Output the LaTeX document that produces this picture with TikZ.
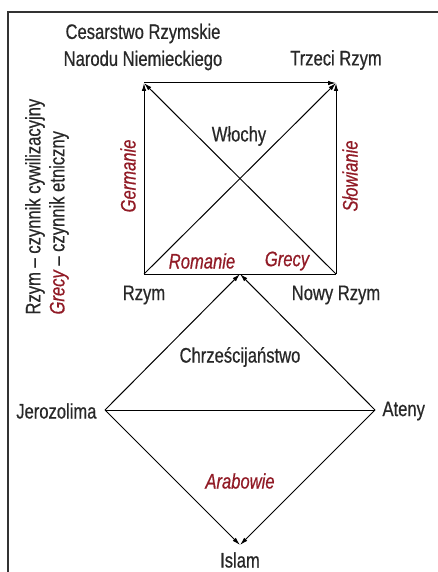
\documentclass[tikz,border=0pt]{standalone}
\usepackage{fontspec}
\setmainfont[FakeStretch=0.79,FakeBold=0.6]{Liberation Sans}
\usetikzlibrary{arrows.meta}
\definecolor{tekst}{RGB}{40,40,40}
\definecolor{czerw}{RGB}{145,27,38}
\def\rozm{\fontsize{21}{27}\selectfont}
\tikzset{
  lbl/.style={text=tekst,font=\rozm,inner sep=0pt},
  lud/.style={text=czerw,font=\rozm\itshape,inner sep=0pt}
}

\begin{document}
\begin{tikzpicture}[x=1pt,y=-1pt,>={Latex[length=8pt,width=4.5pt]},line width=1pt]
\useasboundingbox (0,0) rectangle (437,572);
\draw[line width=1.3pt,black!80] (8,600) |- (460,12);
\coordinate (cesarstwo) at (144,83);
\coordinate (trzeci) at (336,83);
\coordinate (rzym) at (144,274);
\coordinate (nowy) at (336,274);
\coordinate (chrz) at (240,274);
\coordinate (jer) at (105,410);
\coordinate (ateny) at (375,410);
\coordinate (islam) at (240,545);
\draw (rzym) -- (nowy);
\draw[->] (rzym) -- (cesarstwo);
\draw[->] (cesarstwo) -- (trzeci);
\draw[->] (nowy) -- (trzeci);
\draw[->] (rzym) -- (trzeci);
\draw[->] (nowy) -- (cesarstwo);
\draw[->] (jer) -- (chrz);
\draw[->] (ateny) -- (chrz);
\draw (jer) -- (ateny);
\draw[->] (jer) -- (islam);
\draw[->] (ateny) -- (islam);
\node[lbl,align=center] (cesarstwoL) at (143,47) {Cesarstwo Rzymskie\\Narodu Niemieckiego};
\node[lbl] (trzeciL) at (336,60) {Trzeci Rzym};
\node[lbl] (wlochyL) at (239,136) {Włochy};
\node[lbl] (rzymL) at (144,295) {Rzym};
\node[lbl] (nowyL) at (336,295) {Nowy Rzym};
\node[lbl] (chrzL) at (240,357) {Chrześcijaństwo};
\node[lbl,anchor=east] (jerL) at (97,411) {Jerozolima};
\node[lbl,anchor=west] (atenyL) at (382,411) {Ateny};
\node[lbl] (islamL) at (240,560) {Islam};
\node[lud,rotate=90] (germanieL) at (128,176) {Germanie};
\node[lud,rotate=90] (slowianieL) at (350,176) {Słowianie};
\node[lud] (romanieL) at (202,261) {Romanie};
\node[lud] (grecyL) at (287,261) {Grecy};
\node[lud] (arabowieL) at (240,481) {Arabowie};
\node[lbl,rotate=90,anchor=west] (legenda1) at (35,315) {Rzym – czynnik cywilizacyjny};
\node[lbl,rotate=90,anchor=west] (legenda2) at (59,315) {\textcolor{czerw}{\itshape Grecy} – czynnik etniczny};
\end{tikzpicture}
\end{document}
